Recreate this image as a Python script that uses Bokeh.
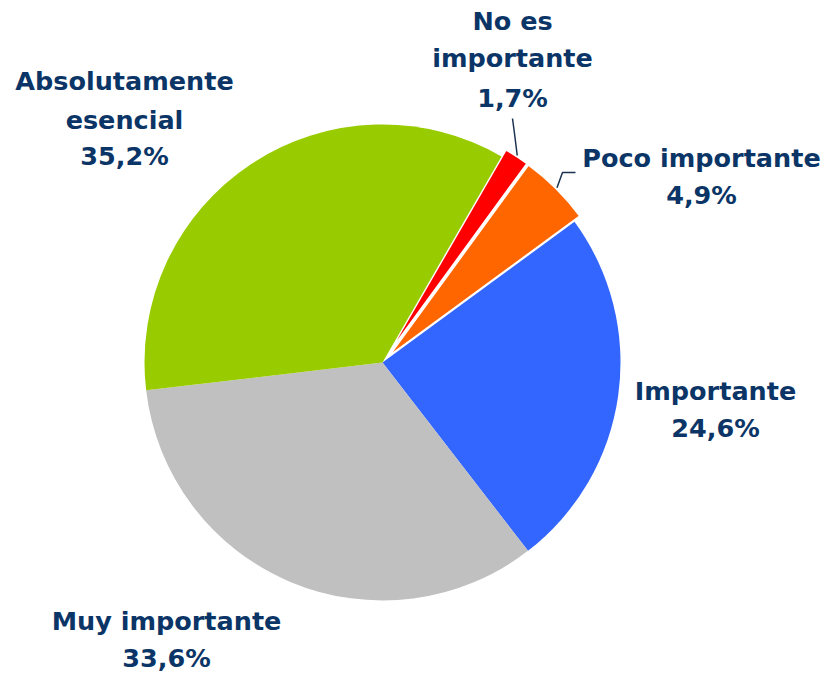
import math
from bokeh.plotting import figure
from bokeh.models import Range1d, ColumnDataSource
from bokeh.core.properties import value
from bokeh.embed import file_html
from bokeh.resources import INLINE

# ---- data ----
categories = ["No es importante", "Poco importante", "Importante", "Muy importante", "Absolutamente esencial"]
label_names = ["No es\nimportante", "Poco importante", "Importante", "Muy importante", "Absolutamente\nesencial"]
values = [1.7, 4.9, 24.6, 33.6, 35.2]
colors = ["#FF0000", "#FF6600", "#3366FF", "#C0C0C0", "#99CC00"]
exploded = [True, True, False, False, False]

# ---- geometry (screen px; data y = -screen y) ----
W, H = 828, 673
CX, CY, R = 382, 362, 238
EXPLODE = 8
FIRST_ANGLE = 30.0  # degrees clockwise from 12 o'clock
TEXT_SHIFT = 8

p = figure(width=W, height=H, x_range=Range1d(0, W), y_range=Range1d(-H, 0),
           output_backend="svg", toolbar_location=None, x_axis_type=None, y_axis_type=None,
           min_border=0, outline_line_color=None, background_fill_color="white",
           border_fill_color="white")
p.grid.visible = False

total = sum(values)
acc = 0.0
mids = []
for v, c, ex in zip(values, colors, exploded):
    a0 = FIRST_ANGLE + acc / total * 360.0
    acc += v
    a1 = FIRST_ANGLE + acc / total * 360.0
    mid = (a0 + a1) / 2
    mids.append(mid)
    off = EXPLODE if ex else 0
    x = CX + off * math.sin(math.radians(mid))
    y = -(CY - off * math.cos(math.radians(mid)))
    p.wedge(x=[x], y=[y], radius=R,
            start_angle=[math.radians(90 - a0)], end_angle=[math.radians(90 - a1)],
            direction="clock", fill_color=c,
            line_color="white" if ex else None, line_width=2 if ex else 0)

# leader lines for the small slices
def edge_point(mid, r):
    return (CX + r * math.sin(math.radians(mid)), -(CY - r * math.cos(math.radians(mid))))

sx, sy = edge_point(mids[0], R + EXPLODE + 1)
p.line(x=[sx, 514, 512], y=[sy, -133, -118], line_color="#1a3350", line_width=1.5)
sx, sy = edge_point(mids[1], R + EXPLODE + 1)
p.line(x=[sx, 562, 575], y=[sy, -172, -172], line_color="#1a3350", line_width=1.5)

# labels: (center x, baselines)
label_pos = [
    (512, [28, 65, 105]),
    (701, [165, 202]),
    (715, [398, 435]),
    (166, [628, 665]),
    (124, [88, 127, 163]),
]
xs, ys, ts = [], [], []
for name, v, (lx, bls) in zip(label_names, values, label_pos):
    lines = name.split("\n") + [f"{v:.1f}".replace(".", ",") + "%"]
    for t, b in zip(lines, bls):
        xs.append(lx)
        ys.append(-(b - TEXT_SHIFT))
        ts.append(t)
src = ColumnDataSource(dict(x=xs, y=ys, text=ts))
p.text(x="x", y="y", text="text", source=src, text_font=value("DejaVu Sans"),
       text_font_style="bold", text_font_size="25.5px", text_color="#0B3566",
       text_align="center", text_baseline="alphabetic")

open("out.html", "w").write(file_html(p, INLINE))
